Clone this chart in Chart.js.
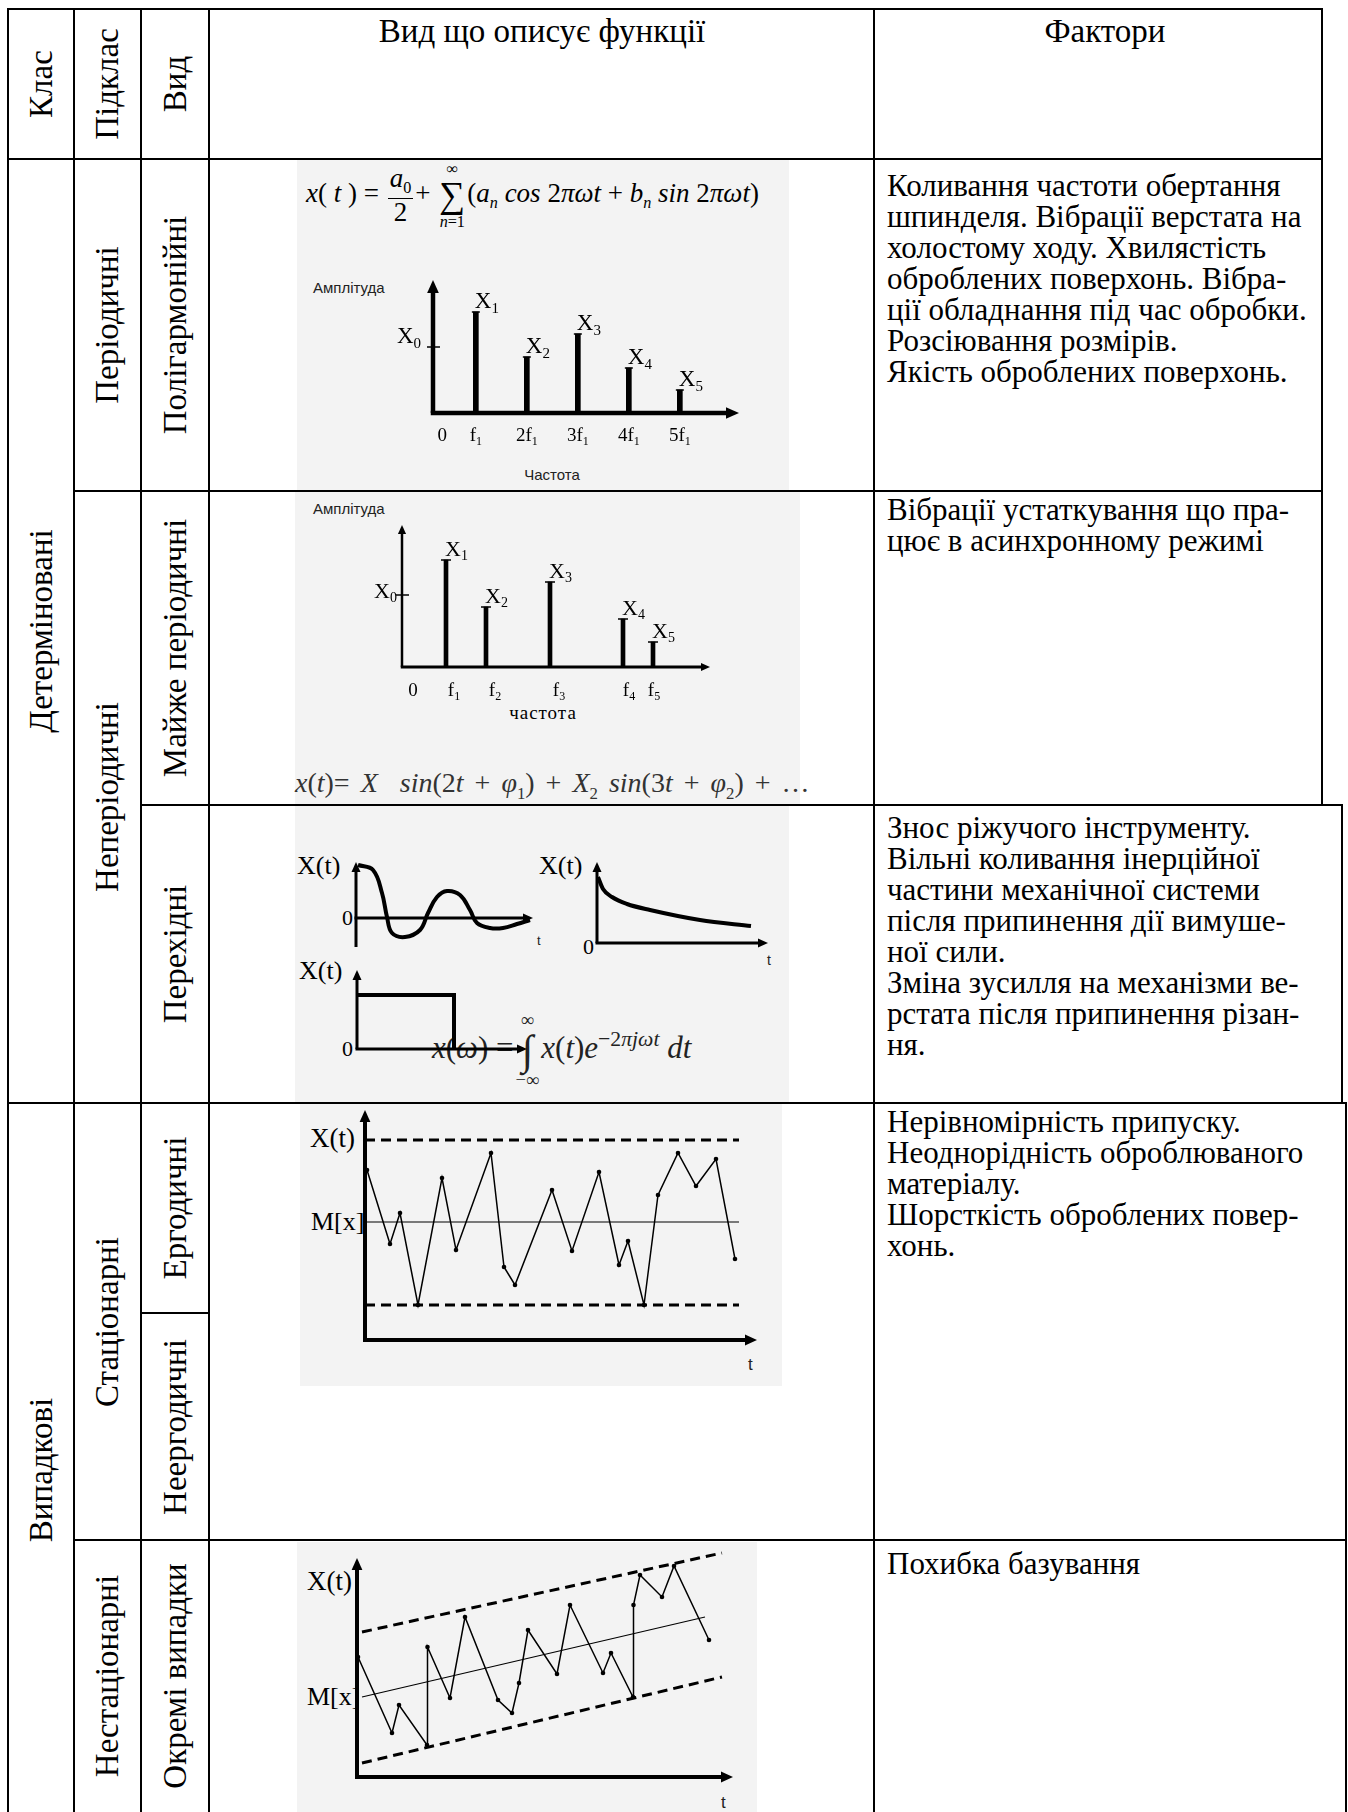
<!DOCTYPE html>
<html lang="uk">
<head>
<meta charset="utf-8">
<script src="https://cdn.jsdelivr.net/npm/chart.js@4.4.1/dist/chart.umd.min.js"></script>
<style>
body{margin:0;width:1348px;height:1812px;overflow:hidden;background:#fff;position:relative;font-family:"Liberation Serif",serif;color:#000}
.ln{position:absolute;background:#000}
.bg{position:absolute;background:#f3f3f3}
canvas{position:absolute}
.tx{position:absolute;left:887px;font-family:"Liberation Serif",serif;font-size:31px;line-height:31px;white-space:nowrap}
.hd{position:absolute;font-size:33px;line-height:1;white-space:nowrap;transform:translate(-50%,-50%)}
.rot{position:absolute;font-size:33px;line-height:1;white-space:nowrap;transform:translate(-50%,-50%) rotate(-90deg)}
.lb{position:absolute;line-height:1;white-space:nowrap;transform:translateY(-50%)}
.sans{font-family:"Liberation Sans",sans-serif;color:#222}
.fx{position:absolute;white-space:nowrap;line-height:1}
.fr,.sm{display:inline-block;vertical-align:middle;text-align:center;line-height:1;margin:0 2px}
.fr>span,.sm>span{display:block}
.fr>span:first-child{border-bottom:1.5px solid #000;padding:0 2px 1px}
.lim{font-size:60%}
.sig{font-size:135%;line-height:1}
</style>
</head>
<body>

<div class="bg" style="left:297px;top:160px;width:492px;height:331px"></div>
<div class="bg" style="left:295px;top:492px;width:505px;height:313px"></div>
<div class="bg" style="left:295px;top:806px;width:494px;height:297px"></div>
<div class="bg" style="left:300px;top:1104px;width:482px;height:282px"></div>
<div class="bg" style="left:297px;top:1542px;width:460px;height:270px"></div>

<div id="lines"></div>

<!-- заголовок -->
<div class="rot" style="left:41px;top:84px">Клас</div>
<div class="rot" style="left:107px;top:84px">Підклас</div>
<div class="rot" style="left:175px;top:84px">Вид</div>
<div class="hd" style="left:542px;top:31px">Вид що описує функції</div>
<div class="hd" style="left:1105px;top:31px">Фактори</div>

<div class="rot" style="left:41px;top:631px">Детерміновані</div>
<div class="rot" style="left:41px;top:1470px">Випадкові</div>
<div class="rot" style="left:107px;top:325px">Періодичні</div>
<div class="rot" style="left:107px;top:797px">Неперіодичні</div>
<div class="rot" style="left:107px;top:1322px">Стаціонарні</div>
<div class="rot" style="left:107px;top:1676px">Нестаціонарні</div>
<div class="rot" style="left:175px;top:325px">Полігармонійні</div>
<div class="rot" style="left:175px;top:648px">Майже періодичні</div>
<div class="rot" style="left:175px;top:954px">Перехідні</div>
<div class="rot" style="left:175px;top:1208px">Ергодичні</div>
<div class="rot" style="left:175px;top:1427px">Неергодичні</div>
<div class="rot" style="left:175px;top:1676px">Окремі випадки</div>

<!-- фактори -->
<div class="tx" style="top:170px">Коливання частоти обертання<br>шпинделя. Вібрації верстата на<br>холостому ходу. Хвилястість<br>оброблених поверхонь. Вібра-<br>ції обладнання під час обробки.<br>Розсіювання розмірів.<br>Якість оброблених поверхонь.</div>
<div class="tx" style="top:494px">Вібрації устаткування що пра-<br>цює в асинхронному режимі</div>
<div class="tx" style="top:812px">Знос ріжучого інструменту.<br>Вільні коливання інерційної<br>частини механічної системи<br>після припинення дії вимуше-<br>ної сили.<br>Зміна зусилля на механізми ве-<br>рстата після припинення різан-<br>ня.</div>
<div class="tx" style="top:1106px">Нерівномірність припуску.<br>Неоднорідність оброблюваного<br>матеріалу.<br>Шорсткість оброблених повер-<br>хонь.</div>
<div class="tx" style="top:1548px">Похибка базування</div>

<!-- підписи до графіків -->
<div class="fx" style="left:306px;top:161px;font-size:27px"><i>x</i>(<i> t </i>) = <span class="fr"><span><i>a</i><sub style="font-size:60%">0</sub></span><span>2</span></span>+ <span class="sm"><span class="lim">∞</span><span class="sig">∑</span><span class="lim"><i>n</i>=1</span></span>(<i>a<sub style="font-size:60%">n</sub> cos</i> 2<i>πωt</i> + <i>b<sub style="font-size:60%">n</sub> sin</i> 2<i>πωt</i>)</div>
<div class="lb sans" style="left:313px;top:287px;font-size:15px">Амплітуда</div>
<div class="lb sans" style="left:552px;top:474px;font-size:15px;transform:translate(-50%,-50%)">Частота</div>

<div class="lb sans" style="left:313px;top:508px;font-size:15px">Амплітуда</div>
<div class="lb" style="left:543px;top:712px;font-size:19px;letter-spacing:1px;transform:translate(-50%,-50%)">частота</div>
<div class="lb" style="left:295px;top:786px;font-size:28px;word-spacing:4px;color:#333"><i>x</i>(<i>t</i>)= <i>X</i>&nbsp;&nbsp;<i>sin</i>(2<i>t</i> + <i>φ</i><sub style="font-size:60%">1</sub>) + <i>X</i><sub style="font-size:60%">2</sub> <i>sin</i>(3<i>t</i> + <i>φ</i><sub style="font-size:60%">2</sub>) + …</div>

<div class="lb" style="left:297px;top:866px;font-size:26px">X(t)</div>
<div class="lb" style="left:342px;top:918px;font-size:22px">0</div>
<div class="lb sans" style="left:537px;top:940px;font-size:13px">t</div>
<div class="lb" style="left:539px;top:866px;font-size:26px">X(t)</div>
<div class="lb" style="left:583px;top:947px;font-size:22px">0</div>
<div class="lb sans" style="left:767px;top:960px;font-size:14px">t</div>
<div class="lb" style="left:299px;top:971px;font-size:26px">X(t)</div>
<div class="lb" style="left:342px;top:1049px;font-size:22px">0</div>
<div class="fx" style="left:432px;top:1011px;font-size:31px;color:#222"><i>x</i>(<i>ω</i>) =<span class="sm"><span class="lim">∞</span><span class="sig">∫</span><span class="lim">−∞</span></span><i>x</i>(<i>t</i>)<i>e</i><sup style="font-size:70%">−2<i>πjωt</i></sup> <i>dt</i></div>

<div class="lb" style="left:310px;top:1138px;font-size:27px">X(t)</div>
<div class="lb" style="left:311px;top:1222px;font-size:26px">M[x]</div>
<div class="lb sans" style="left:748px;top:1364px;font-size:17px">t</div>

<div class="lb" style="left:307px;top:1581px;font-size:27px">X(t)</div>
<div class="lb" style="left:307px;top:1697px;font-size:26px">M[x]</div>
<div class="lb sans" style="left:721px;top:1802px;font-size:17px">t</div>

<canvas id="cPoly"></canvas>
<canvas id="cAlmost"></canvas>
<canvas id="cDamp"></canvas>
<canvas id="cDecay"></canvas>
<canvas id="cPulse"></canvas>
<canvas id="cErg"></canvas>
<canvas id="cNs"></canvas>

<script>
// Полігармонійні: гармоніки та амплітуди
const polyHarm = [1, 2, 3, 4, 5];
const polyAmp = [1.01, 0.56, 0.79, 0.45, 0.23];
const polyNames = ['X_1', 'X_2', 'X_3', 'X_4', 'X_5'];
const polyX0 = 0.66;
const polyTicks = ['0', 'f_1', '2f_1', '3f_1', '4f_1', '5f_1'];
const polyTickPos = [0.34, 1, 2, 3, 4, 5];

// Майже періодичні
const almostFreq = [0.44, 0.84, 1.48, 2.21, 2.51];
const almostAmp = [1.07, 0.60, 0.85, 0.48, 0.25];
const almostNames = ['X_1', 'X_2', 'X_3', 'X_4', 'X_5'];
const almostX0 = 0.72;
const almostTicks = ['0', 'f_1', 'f_2', 'f_3', 'f_4', 'f_5'];
const almostTickPos = [0.11, 0.52, 0.93, 1.57, 2.27, 2.52];

// Перехідні
const dampT = [0.2, 1.7, 2.6, 3.1, 3.6, 4.9, 6.4, 7.2, 8.1, 9.1, 10.4, 11.4, 12.1, 13.4, 14.7, 16.1, 17.4];
const dampX = [5.3, 4.8, 2.5, 0.1, -1.5, -1.9, -1.2, 0.5, 2.1, 2.7, 2.3, 0.8, -0.5, -1.0, -1.0, -0.6, -0.2];
const decayT = [0.1, 0.6, 1.5, 3.0, 5.3, 10.3, 15.4];
const decayX = [6.6, 5.4, 4.6, 3.9, 3.3, 2.3, 1.7];
const pulseT = [0, 9.7, 9.7];
const pulseX = [5.4, 5.4, 0];

// Ергодичні
const ergT = [0.2, 2.5, 3.5, 5.3, 7.7, 9.1, 12.6, 13.9, 15.0, 18.7, 20.7, 23.4, 25.4, 26.3, 27.9, 29.3, 31.3, 33.1, 35.1, 37.0];
const ergX = [17.0, 9.6, 12.7, 3.5, 16.2, 9.0, 18.7, 7.3, 5.5, 15.0, 8.9, 16.8, 7.5, 9.9, 3.5, 14.5, 18.7, 15.4, 18.1, 8.1];
const ergUpper = 20, ergMean = 11.8, ergLower = 3.5;
const ergSpan = [0, 37.4];

// Нестаціонарні
const nsT = [0.1, 3.5, 4.2, 7.0, 7.05, 9.3, 10.8, 14.1, 15.5, 16.2, 17.1, 20.0, 21.3, 24.6, 25.4, 27.6, 27.65, 28.3, 30.5, 31.7, 35.2];
const nsX = [12.0, 4.4, 7.2, 3.2, 13.0, 7.9, 16.0, 7.7, 6.4, 9.4, 14.7, 10.3, 17.2, 10.4, 12.4, 8.0, 17.2, 20.2, 18.0, 21.1, 13.7];
const nsBandT = [0.5, 36.5];
const nsUpper = [14.5, 22.4];
const nsLower = [1.4, 10.0];
const nsTrendT = [0.5, 34.8];
const nsTrend = [8.0, 16.0];

// лінії таблиці
const hLines = [[8, 1322, 9], [8, 1322, 159], [74, 1322, 491], [141, 1342, 805], [8, 1346, 1103], [141, 209, 1313], [74, 1346, 1540]];
const vLines = [[8, 9, 1812], [74, 9, 1812], [141, 9, 1812], [209, 9, 1812], [874, 9, 1812], [1322, 9, 805], [1342, 805, 1103], [1346, 1103, 1812]];
const box = document.getElementById('lines');
hLines.forEach(l => {
    const d = document.createElement('div'); d.className = 'ln';
    d.style.cssText = `left:${l[0]}px;top:${l[2] - 1}px;width:${l[1] - l[0] + 1}px;height:2px`;
    box.appendChild(d);
});
vLines.forEach(l => {
    const d = document.createElement('div'); d.className = 'ln';
    d.style.cssText = `left:${l[0] - 1}px;top:${l[1] - 1}px;width:2px;height:${l[2] - l[1] + 2}px`;
    box.appendChild(d);
});

const pts = (xs, ys) => xs.map((x, i) => ({x: x, y: ys[i]}));

function arrow(ctx, x1, y1, x2, y2, w, h) {
    const a = Math.atan2(y2 - y1, x2 - x1), c = Math.cos(a), s = Math.sin(a);
    ctx.lineWidth = w;
    ctx.beginPath(); ctx.moveTo(x1, y1); ctx.lineTo(x2 - c * h * 0.7, y2 - s * h * 0.7); ctx.stroke();
    ctx.beginPath(); ctx.moveTo(x2, y2);
    ctx.lineTo(x2 - c * h - s * h * 0.45, y2 - s * h + c * h * 0.45);
    ctx.lineTo(x2 - c * h + s * h * 0.45, y2 - s * h - c * h * 0.45);
    ctx.closePath(); ctx.fill();
}

// підпис з нижнім індексом, 'X_1'
function subText(ctx, label, x, y, size, align) {
    const p = label.split('_');
    ctx.textBaseline = 'alphabetic'; ctx.textAlign = 'left';
    ctx.font = size + 'px "Liberation Serif"';
    const w1 = ctx.measureText(p[0]).width;
    const ss = Math.round(size * 0.65);
    ctx.font = ss + 'px "Liberation Serif"';
    const w2 = p[1] ? ctx.measureText(p[1]).width : 0;
    let left = x;
    if (align === 'center') left = x - (w1 + w2) / 2;
    if (align === 'right') left = x - (w1 + w2);
    ctx.font = size + 'px "Liberation Serif"';
    ctx.fillText(p[0], left, y);
    if (p[1]) { ctx.font = ss + 'px "Liberation Serif"'; ctx.fillText(p[1], left + w1, y + size * 0.2); }
}

function axes(o) {
    return function (chart) {
        const ctx = chart.ctx, a = chart.chartArea, ys = chart.scales.y;
        const y0 = ys.getPixelForValue(0);
        ctx.save(); ctx.fillStyle = '#000'; ctx.strokeStyle = '#000';
        arrow(ctx, a.left, a.bottom + (o.yExtra || 0), a.left, a.top, o.yw, o.head);
        arrow(ctx, a.left - o.yw / 2, y0, a.right, y0, o.xw, o.head);
        if (o.after) o.after(chart, ctx);
        ctx.restore();
    };
}

function stems(names, x0v, ticks, tickPos, o) {
    return function (chart, ctx) {
        const xs = chart.scales.x, ys = chart.scales.y, a = chart.chartArea;
        const ty = ys.getPixelForValue(x0v), y0 = ys.getPixelForValue(0);
        ctx.lineWidth = 1.5;
        ctx.beginPath(); ctx.moveTo(a.left - 6, ty); ctx.lineTo(a.left + 7, ty); ctx.stroke();
        subText(ctx, 'X_0', a.left + o.x0dx, ty + o.x0dy, o.fs, 'right');
        chart.getDatasetMeta(0).data.forEach((b, i) => {
            ctx.lineWidth = 1.5;
            ctx.beginPath(); ctx.moveTo(b.x - o.cap, b.y); ctx.lineTo(b.x + o.cap, b.y); ctx.stroke();
            subText(ctx, names[i], b.x - 1, b.y - 4, o.fs, 'left');
        });
        ticks.forEach((t, i) => subText(ctx, t, xs.getPixelForValue(tickPos[i]), y0 + o.tickDy, o.tfs, 'center'));
    };
}

function make(id, rect, area, type, datasets, sx, sy, draw) {
    const c = document.getElementById(id);
    c.width = rect[2]; c.height = rect[3];
    c.style.left = rect[0] + 'px'; c.style.top = rect[1] + 'px';
    return new Chart(c, {
        type: type,
        data: {datasets: datasets},
        options: {
            responsive: false, animation: false, events: [],
            layout: {padding: {left: area[0] - rect[0], top: area[1] - rect[1], right: rect[0] + rect[2] - area[2], bottom: rect[1] + rect[3] - area[3]}},
            plugins: {legend: {display: false}, tooltip: {enabled: false}},
            scales: {
                x: Object.assign({type: 'linear', display: false, offset: false}, sx),
                y: Object.assign({type: 'linear', display: false}, sy)
            }
        },
        plugins: [{id: 'decor_' + id, afterDatasetsDraw: draw}]
    });
}

const black = '#000';

make('cPoly', [370, 255, 400, 200], [433, 280, 739, 413], 'bar',
    [{data: pts(polyHarm, polyAmp), backgroundColor: black, barThickness: 5}],
    {min: 0.16, max: 6.16}, {min: 0, max: 1.33},
    axes({yw: 4.5, xw: 4.5, head: 13, after: stems(polyNames, polyX0, polyTicks, polyTickPos, {x0dx: -12, x0dy: -4, fs: 23, tfs: 19, cap: 4, tickDy: 28})}));

make('cAlmost', [350, 512, 395, 195], [402, 525, 710, 667], 'bar',
    [{data: pts(almostFreq, almostAmp), backgroundColor: black, barThickness: 4}],
    {min: 0, max: 3.08}, {min: 0, max: 1.42},
    axes({yw: 2.5, xw: 3, head: 9, after: stems(almostNames, almostX0, almostTicks, almostTickPos, {x0dx: -5, x0dy: 3, fs: 22, tfs: 19, cap: 5, tickDy: 29})}));

const thick = {showLine: true, borderColor: black, borderWidth: 4, pointRadius: 0, clip: false};

make('cDamp', [340, 850, 210, 105], [356, 862, 533, 947], 'scatter',
    [Object.assign({data: pts(dampT, dampX), tension: 0.4}, thick)],
    {min: 0, max: 17.7}, {min: -2.9, max: 5.6},
    axes({yw: 3, xw: 3, head: 10}));

make('cDecay', [585, 850, 200, 105], [597, 862, 768, 943], 'scatter',
    [Object.assign({data: pts(decayT, decayX), cubicInterpolationMode: 'monotone'}, thick)],
    {min: 0, max: 17.1}, {min: 0, max: 8.1},
    axes({yw: 3, xw: 3, head: 10}));

make('cPulse', [340, 958, 200, 100], [357, 970, 527, 1049], 'scatter',
    [Object.assign({data: pts(pulseT, pulseX)}, thick)],
    {min: 0, max: 17.0}, {min: 0, max: 7.9},
    axes({yw: 3, xw: 3, head: 10}));

const dash = {showLine: true, borderColor: black, borderWidth: 3, borderDash: [10, 6], pointRadius: 0, clip: false};
const thin = {showLine: true, borderColor: black, borderWidth: 1.2, pointRadius: 0, clip: false};

make('cErg', [345, 1100, 425, 250], [365, 1110, 757, 1340], 'scatter',
    [
        Object.assign({data: pts(ergSpan, [ergUpper, ergUpper])}, dash),
        Object.assign({data: pts(ergSpan, [ergLower, ergLower])}, dash),
        Object.assign({data: pts(ergSpan, [ergMean, ergMean])}, thin),
        {data: pts(ergT, ergX), showLine: true, borderColor: black, borderWidth: 1.5, pointRadius: 2.3, pointBackgroundColor: black, pointBorderWidth: 0, clip: false}
    ],
    {min: 0, max: 39.2}, {min: 0, max: 23},
    axes({yw: 4, xw: 4, head: 12}));

make('cNs', [345, 1548, 400, 240], [357, 1558, 733, 1777], 'scatter',
    [
        Object.assign({data: pts(nsBandT, nsUpper)}, dash),
        Object.assign({data: pts(nsBandT, nsLower)}, dash),
        Object.assign({data: pts(nsTrendT, nsTrend)}, thin),
        {data: pts(nsT, nsX), showLine: true, borderColor: black, borderWidth: 1.5, pointRadius: 2.3, pointBackgroundColor: black, pointBorderWidth: 0, clip: false}
    ],
    {min: 0, max: 37.6}, {min: 0, max: 21.9},
    axes({yw: 4, xw: 4, head: 12}));
</script>
</body>
</html>
